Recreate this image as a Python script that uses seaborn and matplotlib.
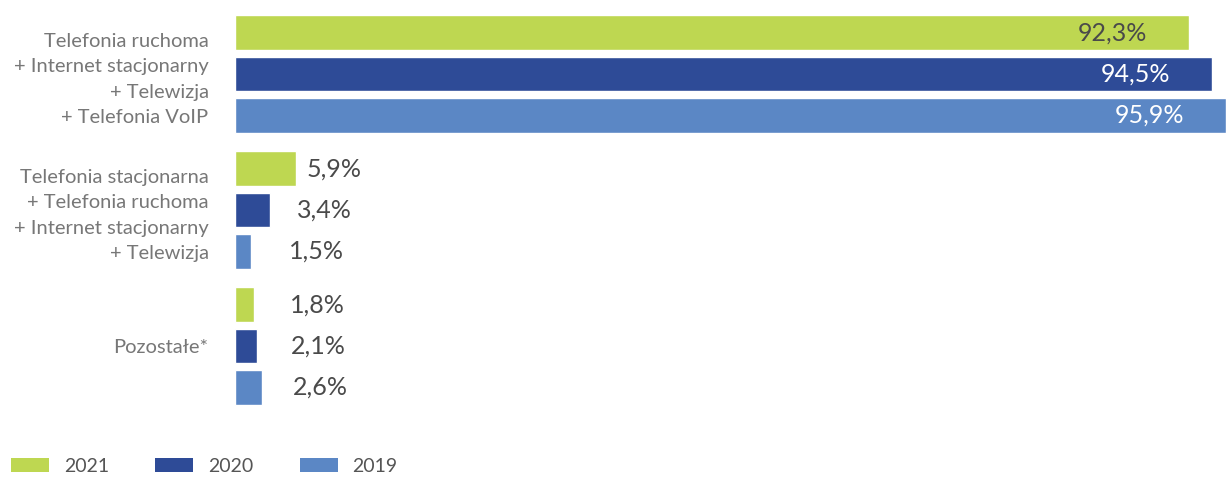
import matplotlib
matplotlib.use("Agg")
import matplotlib.pyplot as plt
import seaborn as sns
import pandas as pd
from matplotlib.patches import Patch

categories = [
    "Telefonia ruchoma\n+ Internet stacjonarny\n+ Telewizja\n+ Telefonia VoIP",
    "Telefonia stacjonarna\n+ Telefonia ruchoma\n+ Internet stacjonarny\n+ Telewizja",
    "Pozostałe*",
]
years = ["2021", "2020", "2019"]
values_2021 = [92.3, 5.9, 1.8]
values_2020 = [94.5, 3.4, 2.1]
values_2019 = [95.9, 1.5, 2.6]
colors = ["#BED751", "#2E4B97", "#5B87C5"]

rows = []
for yr, vals in zip(years, [values_2021, values_2020, values_2019]):
    for c, v in zip(categories, vals):
        rows.append({"cat": c, "year": yr, "val": v})
df = pd.DataFrame(rows)

sns.set_theme(style="white")
plt.rcParams["font.family"] = ["Lato", "DejaVu Sans"]

fig = plt.figure(figsize=(12.26, 4.78), dpi=100)
ax = fig.add_axes([235 / 1226, (478 - 410) / 478, 1 - 235 / 1226, 400 / 478])

sns.barplot(data=df, y="cat", x="val", hue="year", hue_order=years, order=categories,
            palette=colors, orient="h", width=0.91, gap=0.16, ax=ax, legend=False,
            saturation=1)

ax.set_xlim(0, 95.9)
ax.set_ylim(2.47, -0.47)
for s in ax.spines.values():
    s.set_visible(False)
ax.set_xticks([])
ax.set_xlabel("")
ax.set_ylabel("")
ax.tick_params(axis="y", length=0, pad=19)
for lbl in ax.get_yticklabels():
    lbl.set_fontsize(14.5)
    lbl.set_color("#777777")
    lbl.set_fontweight("normal")
    lbl.set_multialignment("right")
    lbl.set_linespacing(1.58)

label_colors = {"2021": "#4a4a4a", "2020": "white", "2019": "white"}
for yr, cont in zip(years, ax.containers):
    for bar in cont:
        w = bar.get_width()
        yc = bar.get_y() + bar.get_height() / 2
        txt = f"{w:.1f}".replace(".", ",") + "%"
        if w > 50:
            ax.text(w - 4.0, yc, txt, ha="right", va="center", fontsize=18,
                    color=label_colors[yr])
        else:
            ax.text(4.6 + 0.4 * w, yc, txt, ha="left", va="center", fontsize=18,
                    color="#4a4a4a")

handles = [Patch(facecolor=c, edgecolor="none", label=y) for c, y in zip(colors, years)]
fig.legend(handles=handles, loc="lower left", bbox_to_anchor=(-0.002, -0.022), ncol=3,
           frameon=False, fontsize=14, handlelength=1.95, handleheight=0.75,
           handletextpad=0.75, columnspacing=2.4, borderaxespad=0.3,
           labelcolor="#555555")

fig.savefig("out.png", dpi=100)
